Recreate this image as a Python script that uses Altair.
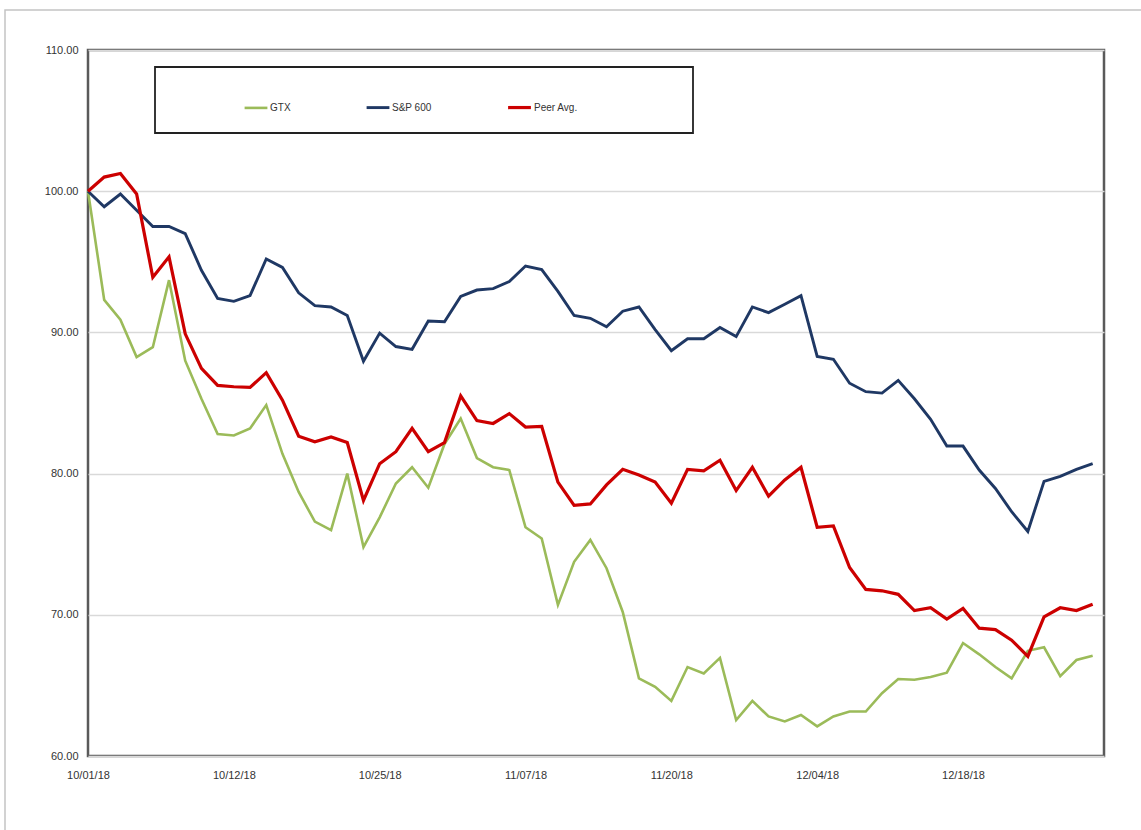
import altair as alt
import pandas as pd

# Trading-day index (0 = 10/01/18 ... 62 = 12/31/18); axis labelled every 9 sessions
tick_positions = [0, 9, 18, 27, 36, 45, 54]
tick_labels = ["10/01/18", "10/12/18", "10/25/18", "11/07/18", "11/20/18", "12/04/18", "12/18/18"]

series_names = ["GTX", "S&P 600", "Peer Avg."]
series_colors = ["#9bbb59", "#1f3864", "#cc0000"]
series_widths = [2.6, 3.2, 3.2]

gtx = [100.0, 92.3, 90.9, 88.25, 88.95, 93.7, 88.0, 85.3, 82.8, 82.7,
       83.2, 84.85, 81.4, 78.7, 76.6, 76.0, 80.0, 74.8, 76.9, 79.3,
       80.45, 79.0, 82.1, 83.9, 81.1, 80.45, 80.25, 76.2, 75.4, 70.7,
       73.75, 75.3, 73.3, 70.2, 65.5, 64.9, 63.9, 66.3, 65.85, 66.95,
       62.55, 63.9, 62.8, 62.45, 62.9, 62.1, 62.8, 63.15, 63.15, 64.45,
       65.45, 65.4, 65.6, 65.9, 68.0, 67.2, 66.3, 65.5, 67.45, 67.7,
       65.65, 66.8, 67.1]

sp600 = [100.0, 98.9, 99.8, 98.65, 97.5, 97.5, 97.0, 94.4, 92.4, 92.2,
         92.6, 95.2, 94.6, 92.8, 91.9, 91.8, 91.2, 87.95, 89.95, 89.0,
         88.8, 90.8, 90.75, 92.55, 93.0, 93.1, 93.6, 94.7, 94.45, 92.9,
         91.2, 91.0, 90.4, 91.5, 91.8, 90.2, 88.7, 89.55, 89.55, 90.35,
         89.7, 91.8, 91.4, 92.0, 92.6, 88.3, 88.1, 86.4, 85.8, 85.7,
         86.6, 85.3, 83.85, 81.95, 81.95, 80.25, 78.95, 77.3, 75.9, 79.45,
         79.8, 80.3, 80.7]

peer = [100.0, 101.0, 101.25, 99.8, 93.9, 95.35, 89.9, 87.45, 86.25, 86.15,
        86.1, 87.15, 85.2, 82.65, 82.25, 82.6, 82.2, 78.1, 80.7, 81.55,
        83.2, 81.55, 82.2, 85.5, 83.75, 83.55, 84.25, 83.3, 83.35, 79.4,
        77.75, 77.85, 79.2, 80.3, 79.9, 79.4, 77.9, 80.3, 80.2, 80.95,
        78.8, 80.45, 78.4, 79.55, 80.45, 76.2, 76.3, 73.35, 71.8, 71.7,
        71.45, 70.3, 70.5, 69.7, 70.45, 69.05, 68.95, 68.2, 67.05, 69.85,
        70.5, 70.3, 70.75]

rows = []
for name, vals in zip(series_names, [gtx, sp600, peer]):
    for i, v in enumerate(vals):
        rows.append({"day": i, "value": v, "series": name})
df = pd.DataFrame(rows)

FONT = "'Liberation Sans Narrow', 'Liberation Sans', sans-serif"
label_expr = "[" + ",".join(f"'{s}'" for s in tick_labels) + "][round(datum.value / 9)]"

one = pd.DataFrame({"k": [0]})

# thin outer border of the whole figure
outer = alt.Chart(one).mark_rect(fill=None, stroke="#c4c4c4", strokeWidth=1.5).encode(
    x=alt.value(-83), x2=alt.value(1120), y=alt.value(-40), y2=alt.value(820)
)

# framed box behind the legend entries
legend_box = alt.Chart(one).mark_rect(fill="white", stroke="#222222", strokeWidth=1.8).encode(
    x=alt.value(67), x2=alt.value(605), y=alt.value(17), y2=alt.value(83)
)

lines = alt.Chart(df).mark_line(strokeJoin="miter").encode(
    x=alt.X("day:Q",
            scale=alt.Scale(domain=[0, 62.7], nice=False, zero=False),
            axis=alt.Axis(values=tick_positions, labelExpr=label_expr, title=None,
                          ticks=False, domain=False, grid=False, labelPadding=13,
                          labelFont=FONT, labelFontSize=11, labelColor="#333333",
                          labelFlush=False, labelOverlap=False)),
    y=alt.Y("value:Q",
            scale=alt.Scale(domain=[60, 110], nice=False, zero=False),
            axis=alt.Axis(values=[60, 70, 80, 90, 100, 110], format=".2f", title=None,
                          ticks=False, domain=False, grid=True, gridColor="#d9d9d9",
                          gridWidth=1.5, labelPadding=10, labelFont=FONT,
                          labelFontSize=11, labelColor="#333333")),
    color=alt.Color("series:N",
                    scale=alt.Scale(domain=series_names, range=series_colors),
                    sort=series_names,
                    legend=alt.Legend(title=None, orient="none", legendX=155, legendY=44,
                                      direction="horizontal", columnPadding=69,
                                      symbolType="stroke", symbolSize=520,
                                      symbolStrokeWidth=3.5, labelFont=FONT,
                                      labelFontSize=10, labelColor="#333333",
                                      labelOffset=1, padding=0)),
    strokeWidth=alt.StrokeWidth("series:N",
                                scale=alt.Scale(domain=series_names, range=series_widths),
                                legend=None),
    order=alt.Order("day:Q"),
)

chart = alt.layer(outer, legend_box, lines).properties(
    width=1016, height=706,
    autosize=alt.AutoSizeParams(type="none"),
    padding={"left": 88, "top": 50, "right": 37, "bottom": 74},
    background="white",
).configure_view(
    stroke="#5a5a5a", strokeWidth=2.5
)

chart.save("out.html", embed_options={"renderer": "svg", "actions": False})
